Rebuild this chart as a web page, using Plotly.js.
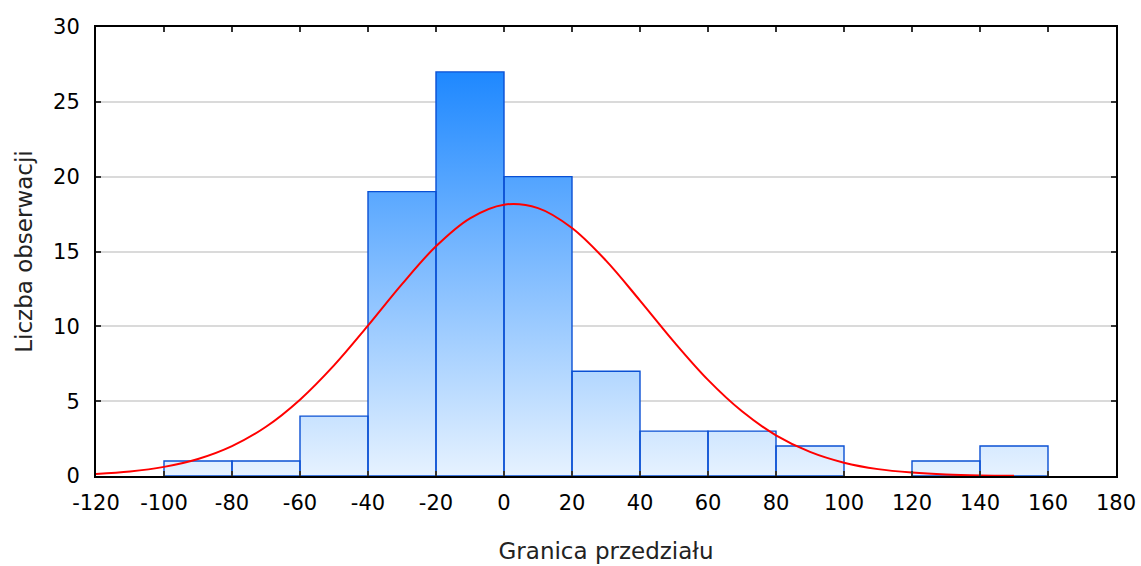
<!DOCTYPE html>
<html>
<head>
<meta charset="utf-8">
<script src="https://cdn.plot.ly/plotly-3.0.1.min.js"></script>
<style>html,body{margin:0;padding:0;background:#fff;}#chart{width:1141px;height:566px;}</style>
</head>
<body>
<div id="chart"></div>
<script>
// Histogram bins (lower / upper edges) and counts
const binStart = [-100, -80, -60, -40, -20, 0, 20, 40, 60, 80, 100, 120, 140];
const binEnd   = [-80, -60, -40, -20, 0, 20, 40, 60, 80, 100, 120, 140, 160];
const counts   = [1, 1, 4, 19, 27, 20, 7, 3, 3, 2, 0, 1, 2];

// Fitted normal curve
const curveX = [-120,-110,-100,-90,-80,-70,-60,-50,-40,-30,-20,-10,0,10,20,30,40,50,60,70,80,90,100,110,120,130,140,150];
const curveY = [0.14,0.30,0.61,1.14,2.00,3.29,5.10,7.39,10.05,12.82,15.35,17.22,18.13,17.90,16.57,14.39,11.72,8.96,6.42,4.32,2.72,1.61,0.89,0.46,0.23,0.10,0.04,0.02];

const xTicks = [-120,-100,-80,-60,-40,-20,0,20,40,60,80,100,120,140,160,180];
const yTicks = [0,5,10,15,20,25,30];

// Build bar outlines as closed polygons
const px = [], py = [];
for (let i = 0; i < counts.length; i++) {
  if (counts[i] <= 0) continue;
  px.push(binStart[i], binStart[i], binEnd[i], binEnd[i], binStart[i], null);
  py.push(0, counts[i], counts[i], 0, 0, null);
}

const FONT = '"DejaVu Sans", "Liberation Sans", Arial, sans-serif';

const traces = [
  {
    type: 'scatter', mode: 'lines', x: px, y: py,
    fill: 'toself',
    fillgradient: {type: 'vertical', start: 0, stop: 27,
      colorscale: [[0, '#E6F2FF'], [1, '#1E88FF']]},
    line: {color: '#0A50D4', width: 1.4},
    hoverinfo: 'skip', showlegend: false
  },
  {
    type: 'scatter', mode: 'lines', x: curveX, y: curveY,
    line: {color: '#FF0000', width: 2, shape: 'spline'},
    showlegend: false
  }
];

const layout = {
  width: 1141, height: 566,
  margin: {l: 96, r: 25, t: 27, b: 90},
  paper_bgcolor: '#ffffff', plot_bgcolor: '#ffffff',
  font: {family: FONT, size: 21, color: '#000'},
  showlegend: false,
  xaxis: {
    range: [-120, 180], tickmode: 'array', tickvals: xTicks,
    ticktext: xTicks.map(String),
    ticks: 'inside', ticklen: 5, tickwidth: 2, tickcolor: '#333',
    showline: true, linecolor: '#000', linewidth: 2, mirror: 'ticks',
    showgrid: false, zeroline: false,
    tickfont: {family: FONT, size: 21, color: '#000'},
    ticklabelstandoff: 7,
    title: {text: 'Granica przedziału', font: {family: FONT, size: 23, color: '#222'}, standoff: 29},
    automargin: false
  },
  yaxis: {
    range: [0, 30], tickmode: 'array', tickvals: yTicks,
    ticks: 'inside', ticklen: 5, tickwidth: 2, tickcolor: '#333',
    showline: true, linecolor: '#000', linewidth: 2, mirror: 'ticks',
    showgrid: true, gridcolor: '#dadada', gridwidth: 2, zeroline: false,
    tickfont: {family: FONT, size: 21, color: '#000'},
    ticklabelstandoff: 10,
    title: {text: 'Liczba obserwacji', font: {family: FONT, size: 23, color: '#222'}, standoff: 14},
    automargin: false
  }
};

Plotly.newPlot('chart', traces, layout, {staticPlot: true, displayModeBar: false});
</script>
</body>
</html>
